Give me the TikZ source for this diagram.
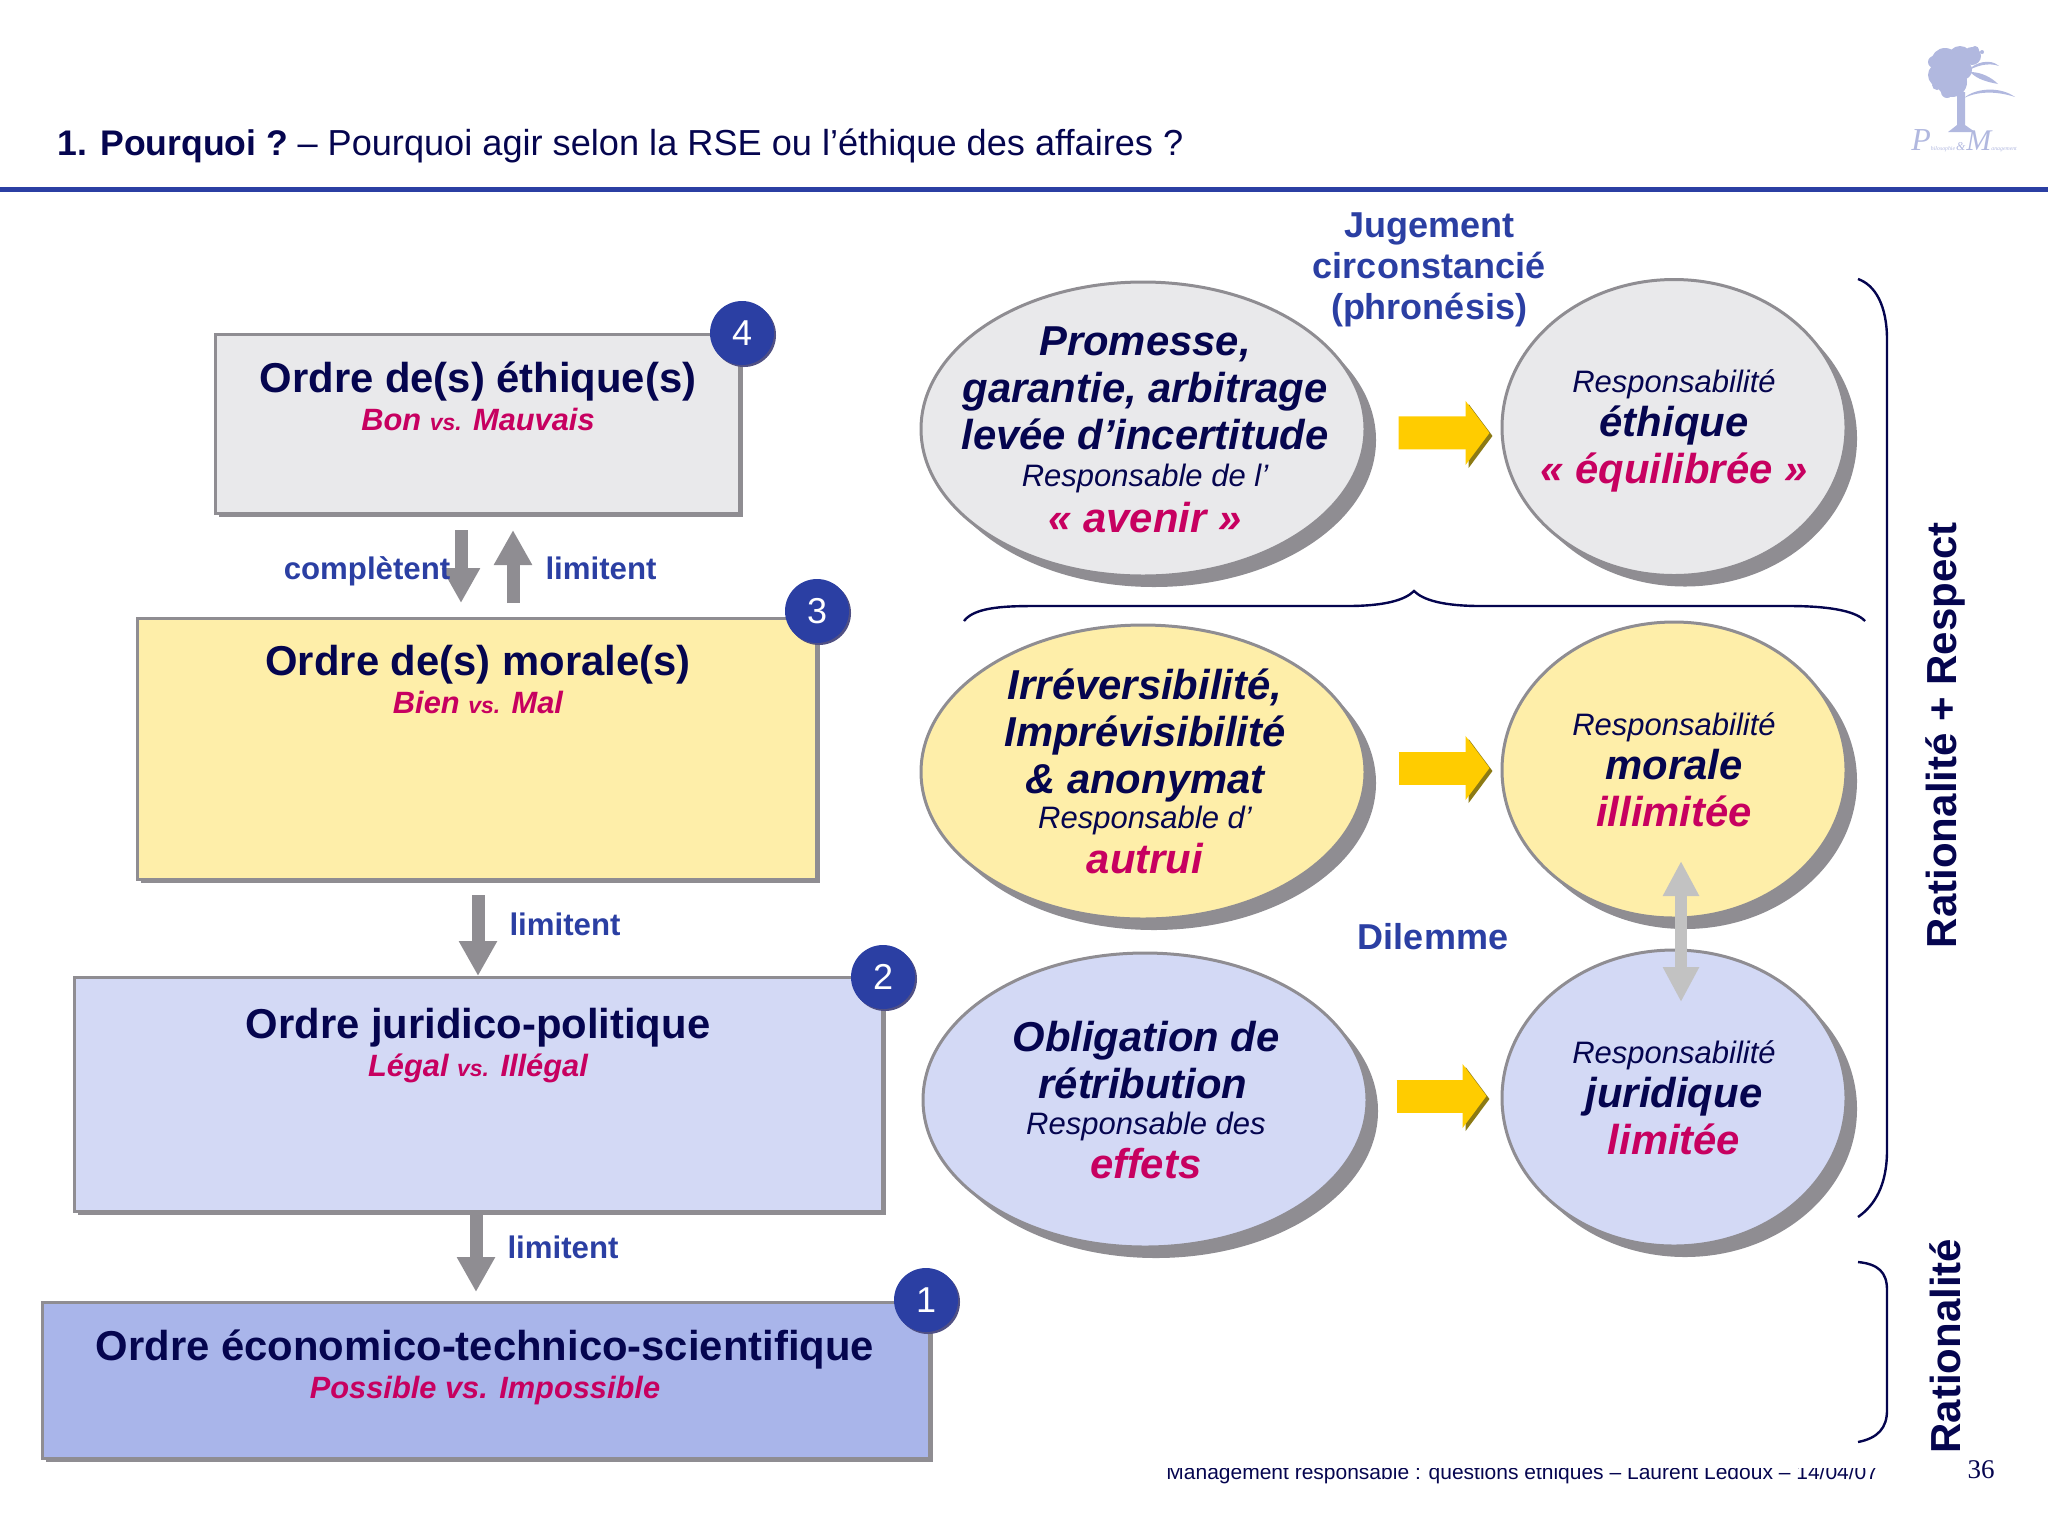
\documentclass[tikz,border=0pt]{standalone}
\usepackage{fontspec}
\setmainfont{Liberation Sans}
\newfontfamily\seriffont{Liberation Serif}
\usetikzlibrary{arrows.meta,shapes.geometric,shadows}
\definecolor{Cmarine}{HTML}{05054F}
\definecolor{Cbleu}{HTML}{2B3FA3}
\definecolor{Cmagenta}{HTML}{C70060}
\definecolor{Cgris}{HTML}{E9E9EB}
\definecolor{Cjaune}{HTML}{FEEEA9}
\definecolor{Cpale}{HTML}{D3D9F5}
\definecolor{Cmoyen}{HTML}{A9B5EA}
\definecolor{Cbord}{HTML}{8F8D92}
\definecolor{Clogo}{HTML}{B1B8DF}
\definecolor{Cor}{HTML}{FFCC00}
\definecolor{Corombre}{HTML}{8C7A14}
\newcommand{\Tgrand}{\fontsize{20.9}{23.5}\selectfont\bfseries\itshape\color{Cmarine}}
\newcommand{\Tpetit}[1]{{\fontsize{15.5}{17}\selectfont\mdseries\itshape\color{Cmarine}#1}}
\newcommand{\Tmag}[1]{{\color{Cmagenta}#1}}
\newcommand{\Tsous}[2]{{\fontsize{15.4}{18}\selectfont\bfseries\itshape\color{Cmagenta}#1 {\fontsize{11.5}{18}\selectfont vs.} #2}}
\tikzset{
  boite/.style={draw=Cbord,line width=1.5pt,rectangle,inner sep=0pt,
    drop shadow={shadow xshift=1.8pt,shadow yshift=-1.8pt,fill=Cbord,opacity=1}},
  titre/.style={align=center,text=Cmarine,font=\fontsize{20.9}{19}\selectfont\bfseries},
  bulle/.style={draw=Cbord,line width=1.5pt,ellipse,inner sep=0pt,
    drop shadow={shadow xshift=5.5pt,shadow yshift=-5.5pt,fill=Cbord,opacity=1}},
  grande/.style={bulle,minimum width=222pt,minimum height=147pt},
  ronde/.style={bulle,minimum width=172pt,minimum height=148pt},
  texte/.style={align=center,font=\Tgrand},
  pastille/.style={circle,fill=Cbleu,inner sep=0pt,minimum size=32pt,text=white,
    font=\fontsize{18}{20}\selectfont,
    drop shadow={shadow xshift=1pt,shadow yshift=-1pt,fill=Cmarine!70,opacity=1}},
  mot/.style={text=Cbleu,text height=12pt,text depth=3pt,font=\fontsize{15.6}{20}\selectfont\bfseries},
  cote/.style={text=Cmarine,rotate=90,font=\fontsize{21}{24}\selectfont\bfseries},
  flechegrise/.style={draw=Cbord,line width=6.5pt,-{Triangle[width=18pt,length=17.5pt]}},
  flechedouble/.style={draw=black!24,line width=6pt,{Triangle[width=17pt,length=17.5pt]}-{Triangle[width=17pt,length=17.5pt]}},
  flechejaune/.style={draw=Cor,line width=16.5pt,shorten <=16pt,shorten >=5.5pt,
    -{Triangle[width=31.5pt,length=12pt]},
    preaction={draw=Corombre,transform canvas={shift={(1.5pt,-1.5pt)}}}},
  accolade/.style={draw=Cmarine,line width=1.2pt}
}
\begin{document}
\begin{tikzpicture}[x=0.5pt,y=-0.5pt]
\useasboundingbox (0,0) rectangle (2048,1512);
\node[anchor=base west,inner sep=0pt,text=Cmarine,font=\fontsize{18.08}{20}\selectfont] (Ntitre) at (57,155) {{\fontsize{17.8}{20}\selectfont\bfseries 1. Pourquoi ?}\kern-2pt{} – Pourquoi agir selon la RSE ou l’éthique des affaires ?};
\fill[Cbleu] (0,186.5) rectangle (2048,192);
\foreach \x/\y/\r in {1945/62/14,1960/58/12,1972/56/9,1940/75/12,1952/82/15,1962/70/10,1934/62/6,1947/92/6,1937/85/5,1958/50/3,1975/50/4,1982/52/2}
  \fill[Clogo] (\x,\y) circle (\r);
\fill[Clogo] (1957,92) -- (1965,92) -- (1965,125) -- (1975,132) -- (1948,132) -- (1957,125) -- cycle;
\fill[Clogo] (1966,72) .. controls (1975,62) and (1990,58) .. (1999,66) .. controls (1988,62) and (1975,66) .. (1966,72) -- cycle;
\fill[Clogo] (1970,72) .. controls (1982,72) and (1992,78) .. (1998,84) .. controls (1988,82) and (1978,80) .. (1970,72) -- cycle;
\fill[Clogo] (1964,98) .. controls (1975,88) and (2000,86) .. (2015,97) .. controls (2000,92) and (1980,90) .. (1964,98) -- cycle;
\node[text=Clogo,anchor=base west,inner sep=0pt,font=\seriffont\itshape\fontsize{2.9}{6}\selectfont] (Nlogo) at (1911,150) {{\fontsize{16}{14}\selectfont P}hilosophie\,{\fontsize{6}{10}\selectfont\&}\,{\fontsize{15}{14}\selectfont M}anagement};
\node[boite,fill=Cgris,minimum width=262pt,minimum height=89.5pt] (Nethique) at (477,423.5) {};
\node[boite,fill=Cjaune,minimum width=339.5pt,minimum height=130.5pt] (Nmorale) at (476.5,748.5) {};
\node[boite,fill=Cpale,minimum width=404pt,minimum height=117pt] (Njuridique) at (478,1094) {};
\node[boite,fill=Cmoyen,minimum width=443.5pt,minimum height=78pt] (Neconomique) at (485.5,1380) {};
\coordinate (Ac1) at (461,530);
\coordinate (Ac2) at (461,603);
\coordinate (Al1) at (513,603);
\coordinate (Al2) at (513,530);
\coordinate (Am1) at (478,895);
\coordinate (Am2) at (478,976);
\coordinate (Aj1) at (476,1213);
\coordinate (Aj2) at (476,1292);
\draw[flechegrise] (Ac1) -- (Ac2);
\draw[flechegrise] (Al1) -- (Al2);
\draw[flechegrise] (Am1) -- (Am2);
\draw[flechegrise] (Aj1) -- (Aj2);
\node[pastille] (P4) at (742,333) {4};
\node[pastille] (P3) at (817,611) {3};
\node[pastille] (P2) at (883,977) {2};
\node[pastille] (P1) at (926,1300) {1};
\node[titre] (Tethique) at (478,396) {Ordre de(s) éthique(s)\\\Tsous{Bon}{Mauvais}};
\node[titre] (Tmorale) at (478,679) {Ordre de(s) morale(s)\\\Tsous{Bien}{Mal}};
\node[titre] (Tjuridique) at (478,1046) {Ordre juridico-politique\\\Tsous{Légal}{Illégal}};
\node[titre] (Teconomique) at (485,1367.5) {Ordre économico-technico-scientifique\\{\fontsize{15.4}{18}\selectfont\bfseries\itshape\color{Cmagenta}Possible vs. Impossible}};
\node[mot] (Lcompletent) at (367,570) {complètent};
\node[mot] (Llimitent1) at (601,570) {limitent};
\node[mot] (Llimitent2) at (565,926) {limitent};
\node[mot] (Llimitent3) at (563,1249) {limitent};
\node[grande,fill=Cgris] (Ne1) at (1143,429) {};
\node[ronde,fill=Cgris] (Nr1) at (1674,427.5) {};
\node[grande,fill=Cjaune] (Ne2) at (1143,772) {};
\node[ronde,fill=Cjaune] (Nr2) at (1674,770) {};
\node[grande,fill=Cpale] (Ne3) at (1145,1100) {};
\node[ronde,fill=Cpale] (Nr3) at (1674,1098) {};
\node[texte] (Te1) at (1145,430) {Promesse,\\garantie, arbitrage\\levée d’incertitude\\[-5pt]\Tpetit{Responsable de l’}\\[-0.5pt]\Tmag{« avenir »}};
\node[texte] (Tr1) at (1674,430.7) {\Tpetit{Responsabilité}\\[-1.5pt]éthique\\\Tmag{« équilibrée »}};
\node[texte] (Te2) at (1145,771) {Irréversibilité,\\Imprévisibilité\\\& anonymat\\[-5.7pt]\Tpetit{Responsable d’}\\[-1.3pt]\Tmag{autrui}};
\node[texte] (Tr2) at (1674,769.7) {\Tpetit{Responsabilité}\\[-1.5pt]morale\\\Tmag{illimitée}};
\node[texte] (Te3) at (1146,1100) {Obligation de\\rétribution\kern 3pt\\[-5.7pt]\Tpetit{Responsable des}\\[-1.3pt]\Tmag{effets}};
\node[texte] (Tr3) at (1674,1097.7) {\Tpetit{Responsabilité}\\[-1.5pt]juridique\\\Tmag{limitée}};
\draw[flechejaune] ([yshift=-2pt]Ne1.east) -- ([yshift=-2.7pt]Nr1.west);
\draw[flechejaune] ([yshift=2pt]Ne2.east) -- ([yshift=1pt]Nr2.west);
\draw[flechejaune,shorten <=14pt,shorten >=7pt] ([yshift=2pt]Ne3.east) -- ([yshift=1pt]Nr3.west);
\coordinate (Ad1) at (1681,861);
\coordinate (Ad2) at (1681,1002);
\draw[flechedouble] (Ad1) -- (Ad2);
\node[text=Cbleu,align=center,font=\fontsize{18}{20.5}\selectfont\bfseries] (Ljugement) at (1429,270) {Jugement\\circonstancié\\(phronésis)};
\node[text=Cbleu,font=\fontsize{18}{20.5}\selectfont\bfseries] (Ldilemme) at (1433,937) {Dilemme};
\draw[accolade] (964,621) .. controls (975,606) and (1010,606) .. (1039,606) -- (1347,606) .. controls (1385,606) and (1405,600) .. (1414,591) .. controls (1423,600) and (1443,606) .. (1481,606) -- (1789,606) .. controls (1825,606) and (1855,610) .. (1865,621);
\draw[accolade] (1858,279) .. controls (1875,285) and (1887,305) .. (1887,340) -- (1887,1150) .. controls (1887,1185) and (1875,1205) .. (1858,1217);
\draw[accolade] (1858,1262) .. controls (1878,1264) and (1887,1272) .. (1887,1290) -- (1887,1410) .. controls (1887,1428) and (1878,1438) .. (1858,1442);
\node[cote] (Lrespect) at (1945,735) {Rationalité + Respect};
\node[cote] (Lrationalite) at (1945,1346) {Rationalité};
\begin{scope}
\clip (1100,1468) rectangle (1900,1500);
\node[anchor=base west,inner sep=0pt,text=Cmarine,font=\fontsize{10.5}{12}\selectfont] (Lpied) at (1166,1479) {Management responsable : questions éthiques – Laurent Ledoux – 14/04/07};
\end{scope}
\node[text=Cmarine,font=\seriffont\fontsize{13.5}{15}\selectfont] (Lpage) at (1981,1470) {36};
\end{tikzpicture}
\end{document}
